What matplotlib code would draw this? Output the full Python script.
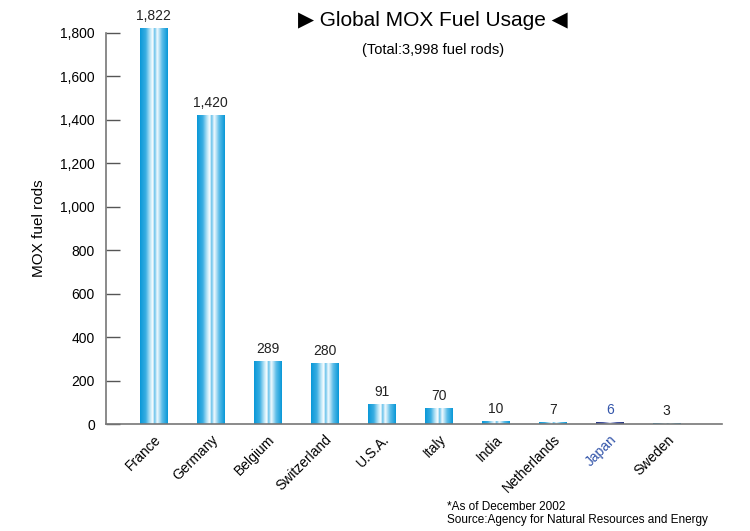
import numpy as np
import matplotlib.pyplot as plt
from matplotlib.colors import LinearSegmentedColormap

plt.rcParams["font.family"] = ["Liberation Sans", "DejaVu Sans"]

countries = ["France", "Germany", "Belgium", "Switzerland", "U.S.A.",
             "Italy", "India", "Netherlands", "Japan", "Sweden"]
fuel_rods = [1822, 1420, 289, 280, 91, 70, 10, 7, 6, 3]
value_labels = ["1,822", "1,420", "289", "280", "91", "70", "10", "7", "6", "3"]
y_ticks = [0, 200, 400, 600, 800, 1000, 1200, 1400, 1600, 1800]
y_tick_labels = ["0", "200", "400", "600", "800", "1,000", "1,200", "1,400", "1,600", "1,800"]
highlight = "Japan"

blue_cmap = LinearSegmentedColormap.from_list(
    "bluebar",
    [(0.0, "#0a98d8"), (0.2, "#3aaee2"), (0.38, "#c9ebf9"), (0.46, "#ffffff"),
     (0.52, "#62c0ea"), (0.62, "#f2fafe"), (0.8, "#5cbde8"), (1.0, "#0a98d8")])
navy_cmap = LinearSegmentedColormap.from_list(
    "navybar",
    [(0.0, "#27367f"), (0.25, "#4a5aa6"), (0.5, "#eef0fa"), (0.75, "#4a5aa6"), (1.0, "#27367f")])

fig = plt.figure(figsize=(7.5, 5.31), dpi=100)
ax = fig.add_axes([0.1413, 0.2015, 0.8214, 0.7364])

width = 0.49
grad = np.linspace(0, 1, 64).reshape(1, -1)
for i, (name, val) in enumerate(zip(countries, fuel_rods)):
    cmap = navy_cmap if name == highlight else blue_cmap
    ax.imshow(grad, cmap=cmap, aspect="auto", interpolation="bilinear",
              extent=(i - width / 2, i + width / 2, 0, val), clip_on=False, zorder=2)
    color = "#3355aa" if name == highlight else "#222222"
    ax.text(i, val + 25, value_labels[i], ha="center", va="bottom",
            fontsize=10, color=color, clip_on=False)

ax.set_xlim(-0.84, 9.97)
ax.set_ylim(0, 1800)
ax.set_xticks(range(len(countries)))
ax.set_xticklabels(countries, rotation=45, ha="right", rotation_mode="anchor", fontsize=10)
for lbl in ax.get_xticklabels():
    if lbl.get_text() == highlight:
        lbl.set_color("#3355aa")
ax.tick_params(axis="x", length=0, pad=6)

ax.set_yticks(y_ticks)
ax.set_yticklabels(y_tick_labels, fontsize=10)
ax.tick_params(axis="y", direction="in", length=10, width=1, color="#555555", pad=8)
ax.set_ylabel("MOX fuel rods", fontsize=11, labelpad=10)

for side in ["top", "right"]:
    ax.spines[side].set_visible(False)
for side in ["left", "bottom"]:
    ax.spines[side].set_color("#777777")
    ax.spines[side].set_linewidth(1.2)

fig.text(0.577, 0.962, "\u25b6 Global MOX Fuel Usage \u25c0", ha="center", va="center",
         fontsize=15, family=["Liberation Sans", "DejaVu Sans"])
fig.text(0.577, 0.905, "(Total:3,998 fuel rods)", ha="center", va="center", fontsize=10.5)

fig.text(0.596, 0.045, "*As of December 2002", ha="left", va="center", fontsize=8.5)
fig.text(0.596, 0.020, "Source:Agency for Natural Resources and Energy", ha="left",
         va="center", fontsize=8.5)

fig.savefig("out.png", dpi=100)
